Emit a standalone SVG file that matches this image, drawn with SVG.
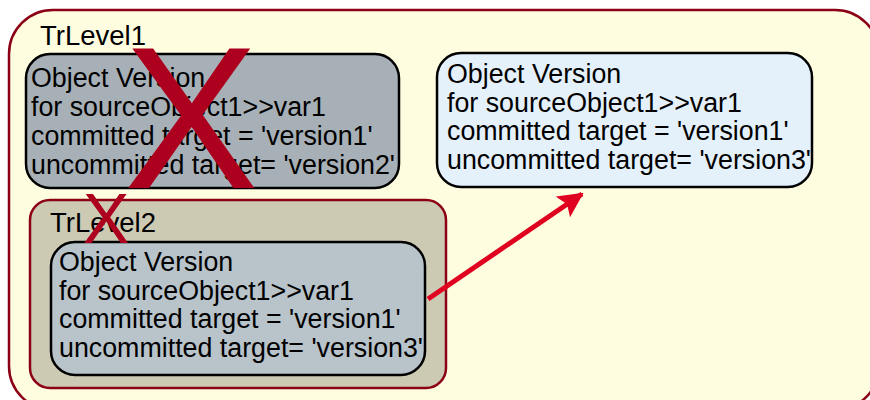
<svg xmlns="http://www.w3.org/2000/svg" width="870" height="400" viewBox="0 0 870 400">
<style>
text{font-family:"Liberation Sans",Arial,sans-serif;fill:#000}
.lbl{font-size:27.5px}
.ov{font-size:26.8px}
.box{stroke:#000;stroke-width:2.5}
.tr{stroke:#8c0016;stroke-width:2.5}
.x{fill:#ac001e;font-family:"Liberation Sans",Arial,sans-serif}
</style>
<defs>
<marker id="ah" markerWidth="5" markerHeight="5" refX="4.6" refY="2.5" orient="auto" markerUnits="strokeWidth">
<path d="M0,0 L5,2.5 L0,5 L1,2.5 Z" fill="#e0001f"/>
</marker>
</defs>
<rect width="870" height="400" fill="#ffffff"/>
<g id="trlevel1">
<rect class="tr" x="9" y="10" width="870" height="400" rx="44" fill="#fffde0"/>
<text class="lbl" x="40" y="45">TrLevel1</text>
</g>
<g id="ov1">
<rect class="box" x="26" y="54" width="373" height="134" rx="24" fill="#a7b0b6"/>
<text class="ov" x="31" y="87">Object Version</text>
<text class="ov" x="31" y="116">for sourceObject1&gt;&gt;var1</text>
<text class="ov" x="31" y="145">committed target = 'version1'</text>
<text class="ov" x="31" y="174">uncommitted target= 'version2'</text>
</g>
<g id="ov3">
<rect class="box" x="437" y="53" width="375" height="134" rx="24" fill="#e4f0fa"/>
<text class="ov" x="447" y="83">Object Version</text>
<text class="ov" x="447" y="112">for sourceObject1&gt;&gt;var1</text>
<text class="ov" x="447" y="140">committed target = 'version1'</text>
<text class="ov" x="447" y="169">uncommitted target= 'version3'</text>
</g>
<g id="trlevel2">
<rect class="tr" x="30" y="200" width="416" height="188" rx="20" fill="#cdcab4"/>
<text class="lbl" x="50" y="232">TrLevel2</text>
</g>
<g id="ov2">
<rect class="box" x="51" y="242" width="374" height="133" rx="24" fill="#b8c3ca"/>
<text class="ov" x="59" y="271">Object Version</text>
<text class="ov" x="59" y="300">for sourceObject1&gt;&gt;var1</text>
<text class="ov" x="59" y="328">committed target = 'version1'</text>
<text class="ov" x="59" y="357">uncommitted target= 'version3'</text>
</g>
<g id="marks">
<text class="x" x="191" y="188" font-size="202" text-anchor="middle">X</text>
<text class="x" x="106" y="243" font-size="70" text-anchor="middle">X</text>
</g>
<g id="connectors">
<line x1="428" y1="299" x2="582" y2="194" stroke="#e0001f" stroke-width="5" marker-end="url(#ah)"/>
</g>
</svg>
